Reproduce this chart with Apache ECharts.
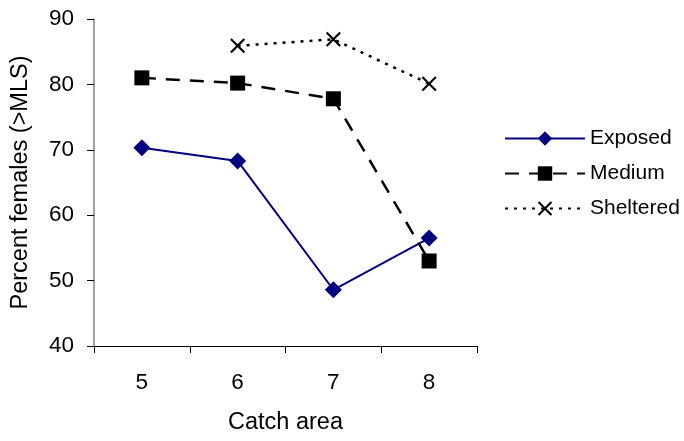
<!DOCTYPE html>
<html><head><meta charset="utf-8">
<script src="https://cdn.jsdelivr.net/npm/echarts@6/dist/echarts.min.js"></script>
<style>html,body{margin:0;padding:0;background:#fff}#c{width:684px;height:441px}</style>
</head><body><div id="c"></div>
<script>
const categories = ['5', '6', '7', '8'];
const exposed = [70.3, 68.3, 48.6, 56.5];
const medium = [81.0, 80.2, 77.8, 53.0];
const sheltered = [null, 85.9, 86.9, 80.1];
const yTicks = { min: 40, max: 90, interval: 10 };

const crossPath = 'path://M0,1L1,0L5,4L9,0L10,1L6,5L10,9L9,10L5,6L1,10L0,9L4,5Z';
const font = 'Liberation Sans, Arial, sans-serif';

const chart = echarts.init(document.getElementById('c'));
chart.setOption({
  animation: false,
  backgroundColor: '#fff',
  textStyle: { fontFamily: font },
  grid: { left: 94, right: 207, top: 19, bottom: 95 },
  legend: {
    orient: 'vertical', left: 499, top: 123,
    itemWidth: 80, itemHeight: 18, itemGap: 14,
    textStyle: { fontSize: 21, color: '#000', fontFamily: font },
    data: ['Exposed', 'Medium', 'Sheltered']
  },
  xAxis: {
    type: 'category', data: categories, boundaryGap: true,
    name: 'Catch area', nameLocation: 'middle', nameGap: 65,
    nameTextStyle: { fontSize: 23.5, color: '#000', fontFamily: font },
    axisLine: { lineStyle: { color: '#000', width: 1 } },
    axisTick: { show: true, length: 7, inside: false, lineStyle: { color: '#000' } },
    axisLabel: { fontSize: 22.5, color: '#000', margin: 25, fontFamily: font }
  },
  yAxis: {
    type: 'value', min: yTicks.min, max: yTicks.max, interval: yTicks.interval,
    name: 'Percent females (>MLS)', nameLocation: 'middle', nameGap: 61,
    nameTextStyle: { fontSize: 23.5, color: '#000', fontFamily: font },
    axisLine: { show: true, lineStyle: { color: '#808080', width: 1.5 } },
    axisTick: { show: true, length: 7, lineStyle: { color: '#000' } },
    axisLabel: { fontSize: 22.5, color: '#000', margin: 20, fontFamily: font },
    splitLine: { show: false }
  },
  series: [
    {
      name: 'Exposed', type: 'line', data: exposed,
      symbol: 'diamond', symbolSize: 17,
      itemStyle: { color: '#000080' },
      lineStyle: { color: '#000080', width: 2 }
    },
    {
      name: 'Medium', type: 'line', data: medium,
      symbol: 'rect', symbolSize: 15,
      itemStyle: { color: '#000' },
      lineStyle: { color: '#000', width: 2.5, type: [14, 10] }
    },
    {
      name: 'Sheltered', type: 'line', data: sheltered,
      symbol: crossPath, symbolSize: 15,
      itemStyle: { color: '#000' },
      lineStyle: { color: '#000', width: 2.5, type: [3, 6] }
    }
  ]
});
</script></body></html>
